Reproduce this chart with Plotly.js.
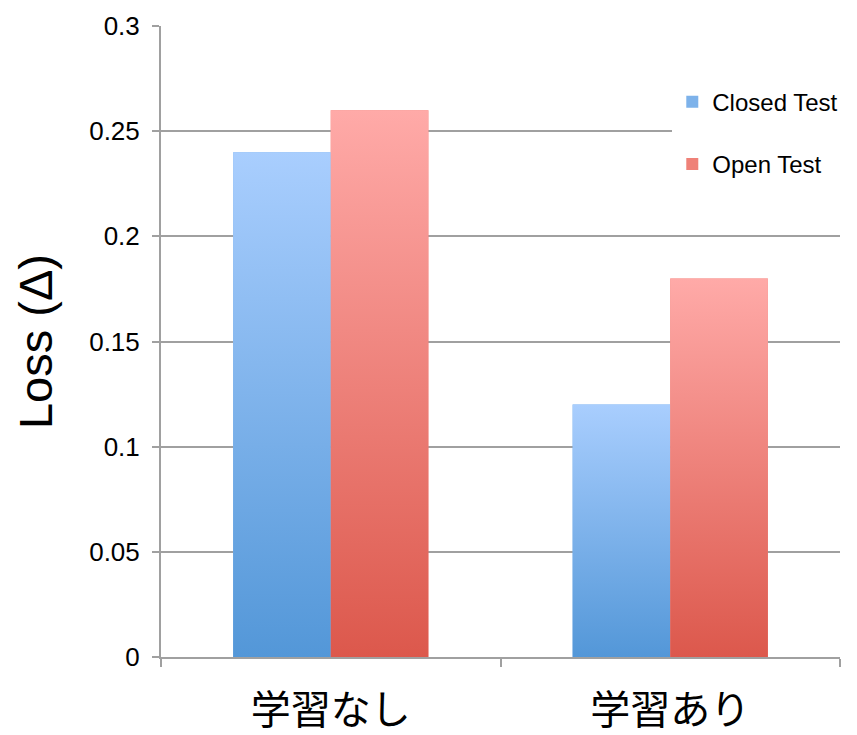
<!DOCTYPE html>
<html>
<head>
<meta charset="utf-8">
<script src="https://cdn.plot.ly/plotly-3.0.1.min.js"></script>
<style>html,body{margin:0;padding:0;background:#fff;}#chart{width:857px;height:735px;}</style>
</head>
<body>
<div id="chart"></div>
<script>
const categories = ['学習なし', '学習あり'];
const seriesNames = ['Closed Test', 'Open Test'];
const closedTest = [0.24, 0.12];
const openTest = [0.26, 0.18];
const yTicks = [0, 0.05, 0.1, 0.15, 0.2, 0.25, 0.3];

const seriesValues = [closedTest, openTest];
const topColors = ['#a9cefe', '#ffaaa8'];
const bottomColors = ['#5397d8', '#dc584c'];
const midColors = ['#7db2ea', '#ef8178'];

const BARGAP = 0.425;
const barW = (1 - BARGAP) / 2;

const data = [];
seriesValues.forEach((vals, s) => {
  data.push({
    type: 'bar',
    name: seriesNames[s],
    x: categories,
    y: vals,
    marker: {color: midColors[s], line: {width: 0}},
    legendgroup: 'g' + s,
    hoverinfo: 'y'
  });
});
seriesValues.forEach((vals, s) => {
  vals.forEach((v, i) => {
    const x0 = i - barW + s * barW;
    const x1 = x0 + barW;
    data.push({
      type: 'scatter',
      mode: 'lines',
      xaxis: 'x2',
      x: [x0, x1, x1, x0, x0],
      y: [0, 0, v, v, 0],
      line: {width: 0, color: 'rgba(0,0,0,0)'},
      fill: 'toself',
      fillgradient: {type: 'vertical', colorscale: [[0, bottomColors[s]], [1, topColors[s]]], start: 0, stop: v},
      showlegend: false,
      hoverinfo: 'skip'
    });
  });
});

const txtFont = 'Liberation Sans, Arial, Helvetica, sans-serif';
const layout = {
  width: 857, height: 735,
  margin: {l: 161, r: 17, t: 26, b: 78, autoexpand: false},
  paper_bgcolor: '#ffffff', plot_bgcolor: '#ffffff',
  barmode: 'group', bargap: BARGAP, bargroupgap: 0,
  font: {family: txtFont, color: '#000'},
  xaxis: {
    type: 'category', range: [-0.5, 1.5],
    showline: true, linecolor: '#a0a0a0', linewidth: 2,
    ticks: 'outside', tickson: 'boundaries', ticklen: 8, tickcolor: '#a0a0a0', tickwidth: 2,
    tickfont: {family: 'Noto Sans CJK JP, sans-serif', size: 40, color: '#000'},
    ticklabelstandoff: 17,
    showgrid: false, zeroline: false, fixedrange: true, automargin: false
  },
  xaxis2: {overlaying: 'x', range: [-0.5, 1.5], visible: false, fixedrange: true},
  yaxis: {
    range: [0, 0.3], tickvals: yTicks, ticktext: yTicks.map(String),
    showline: true, linecolor: '#a0a0a0', linewidth: 2,
    ticks: 'outside', ticklen: 7, tickcolor: '#a0a0a0', tickwidth: 2,
    showgrid: true, gridcolor: '#a0a0a0', gridwidth: 2,
    zeroline: false,
    tickfont: {family: txtFont, size: 26, color: '#000'},
    ticklabelstandoff: 7,
    title: {text: 'Loss (Δ)', font: {family: txtFont, size: 47, color: '#000'}, standoff: 22},
    fixedrange: true, automargin: false
  },
  legend: {
    x: 0.753, y: 0.915, xanchor: 'left', yanchor: 'top',
    bgcolor: '#ffffff', borderwidth: 0,
    font: {family: txtFont, size: 24, color: '#000'},
    traceorder: 'grouped', tracegroupgap: 28,
    itemwidth: 30
  },
  showlegend: true
};

Plotly.newPlot('chart', data, layout, {displayModeBar: false, staticPlot: true});
</script>
</body>
</html>
